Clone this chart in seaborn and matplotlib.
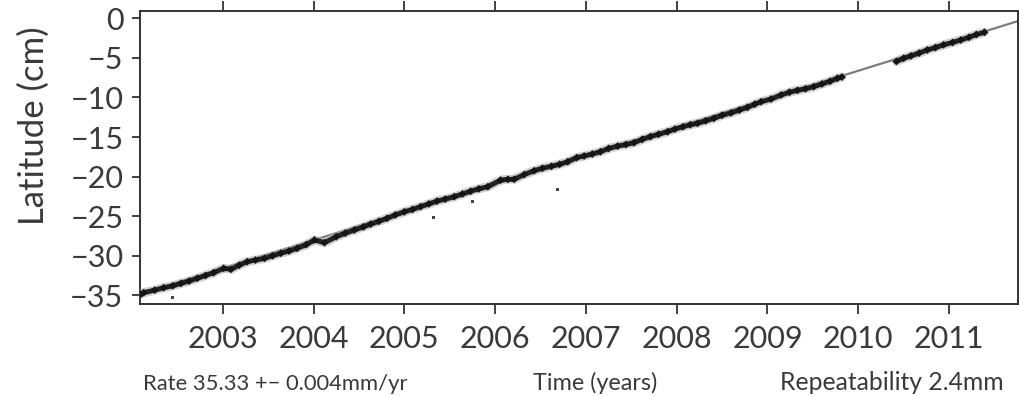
import matplotlib
matplotlib.use("Agg")
import matplotlib.pyplot as plt
import numpy as np
import pandas as pd
import seaborn as sns

# Daily GPS latitude, sampled along the record (decimal years, cm)
t_seg1 = [2002.10, 2002.13, 2002.25, 2002.35, 2002.45, 2002.54, 2002.63, 2002.72,
          2002.81, 2002.90, 2003.01, 2003.09, 2003.18, 2003.27, 2003.36, 2003.46,
          2003.55, 2003.64, 2003.73, 2003.82, 2003.92, 2004.01, 2004.12, 2004.25,
          2004.35, 2004.45, 2004.55, 2004.63, 2004.72, 2004.81, 2004.90, 2005.00,
          2005.09, 2005.18, 2005.27, 2005.36, 2005.45, 2005.55, 2005.64, 2005.73,
          2005.82, 2005.92, 2006.06, 2006.14, 2006.21, 2006.32, 2006.43, 2006.52,
          2006.62, 2006.71, 2006.80, 2006.90, 2006.98, 2007.07, 2007.16, 2007.25,
          2007.35, 2007.44, 2007.53, 2007.62, 2007.71, 2007.80, 2007.90, 2007.98,
          2008.07, 2008.15, 2008.23, 2008.32, 2008.41, 2008.50, 2008.60, 2008.69,
          2008.78, 2008.86, 2008.93, 2009.04, 2009.15, 2009.24, 2009.33, 2009.42,
          2009.51, 2009.60, 2009.69, 2009.77, 2009.82]
lat_seg1 = [-34.85, -34.67, -34.35, -34.04, -33.80, -33.49, -33.20, -32.85,
            -32.50, -32.14, -31.59, -31.72, -31.20, -30.75, -30.55, -30.33,
            -30.00, -29.69, -29.40, -29.06, -28.60, -28.01, -28.35, -27.60,
            -27.15, -26.75, -26.35, -26.00, -25.65, -25.27, -24.85, -24.45,
            -24.15, -23.80, -23.45, -23.10, -22.85, -22.54, -22.20, -21.85,
            -21.55, -21.28, -20.45, -20.35, -20.34, -19.75, -19.26, -18.95,
            -18.70, -18.45, -18.12, -17.60, -17.40, -17.15, -16.86, -16.45,
            -16.15, -15.95, -15.72, -15.30, -14.95, -14.65, -14.33, -14.00,
            -13.70, -13.45, -13.27, -12.95, -12.64, -12.25, -11.95, -11.60,
            -11.25, -10.85, -10.54, -10.20, -9.69, -9.35, -9.10, -8.90,
            -8.64, -8.30, -7.95, -7.58, -7.42]

t_seg2 = [2010.42, 2010.50, 2010.58, 2010.67, 2010.76, 2010.85, 2010.94, 2011.04,
          2011.13, 2011.22, 2011.30, 2011.39]
lat_seg2 = [-5.45, -5.05, -4.75, -4.40, -4.00, -3.70, -3.35, -3.05,
            -2.74, -2.40, -2.05, -1.77]

# Isolated outlying daily solutions
t_outliers = [2002.45, 2005.32, 2005.75, 2006.69]
lat_outliers = [-35.30, -25.20, -23.20, -21.65]

# Linear velocity fit across the whole span
t_fit = [2002.089, 2011.76]
lat_fit = [-34.85, -0.35]

year_ticks = [2003, 2004, 2005, 2006, 2007, 2008, 2009, 2010, 2011]
lat_ticks = [0, -5, -10, -15, -20, -25, -30, -35]

sns.set_style("white")
plt.rcParams["font.family"] = ["Lato", "DejaVu Sans"]

fig = plt.figure(figsize=(10.2, 3.96), dpi=100)
ax = fig.add_axes([0.1373, 0.2323, 0.8608, 0.7407])

fit_df = pd.DataFrame({"t": t_fit, "lat": lat_fit})
sns.lineplot(data=fit_df, x="t", y="lat", ax=ax, color="#7c7c7c", lw=1.6,
             zorder=2)

for tt, ll in ((t_seg1, lat_seg1), (t_seg2, lat_seg2)):
    seg = pd.DataFrame({"t": tt, "lat": ll})
    sns.lineplot(data=seg, x="t", y="lat", ax=ax, sort=False, estimator=None,
                 color="#a8a8a8", lw=6.5, alpha=0.55, zorder=3)
    sns.lineplot(data=seg, x="t", y="lat", ax=ax, sort=False, estimator=None,
                 color="#222222", lw=3.6, zorder=4)
    sns.scatterplot(data=seg, x="t", y="lat", ax=ax, marker="D", s=16,
                    color="#151515", edgecolor="none", zorder=5)

out_df = pd.DataFrame({"t": t_outliers, "lat": lat_outliers})
sns.scatterplot(data=out_df, x="t", y="lat", ax=ax, marker="s", s=5,
                color="#444444", edgecolor="none", zorder=5)

ax.set_xlim(2002.089, 2011.76)
ax.set_ylim(-36.1, 0.96)
ax.set_xticks(year_ticks)
ax.set_xticklabels([str(y) for y in year_ticks])
ax.set_yticks(lat_ticks)
ax.set_yticklabels([f"{v}".replace("-", "\u2212") for v in lat_ticks])

ax.set_xlabel("")
ax.set_ylabel("Latitude (cm)", fontsize=25, color="#3a3a3a")
ax.yaxis.set_label_coords(-0.1025, 0.607)

for side in ("left", "right", "top", "bottom"):
    ax.spines[side].set_visible(True)
    ax.spines[side].set_color("#333333")
    ax.spines[side].set_linewidth(1.4)

ax.tick_params(axis="x", which="major", direction="out", length=7, width=1.3,
               color="#333333", labelsize=22, labelcolor="#3a3a3a", pad=8,
               top=True, bottom=True)
ax.tick_params(axis="y", which="major", direction="out", length=6, width=1.3,
               color="#333333", labelsize=22, labelcolor="#3a3a3a", pad=6,
               left=True, right=False)

fig.text(0.140, 0.016, "Rate 35.33 +\u2212 0.004mm/yr", fontsize=15.8,
         color="#3a3a3a", ha="left", va="baseline")
fig.text(0.583, 0.016, "Time (years)", fontsize=16.8, color="#3a3a3a",
         ha="center", va="baseline")
fig.text(0.984, 0.016, "Repeatability 2.4mm", fontsize=17.8, color="#3a3a3a",
         ha="right", va="baseline")

fig.savefig("out.png", dpi=100, facecolor="white")
